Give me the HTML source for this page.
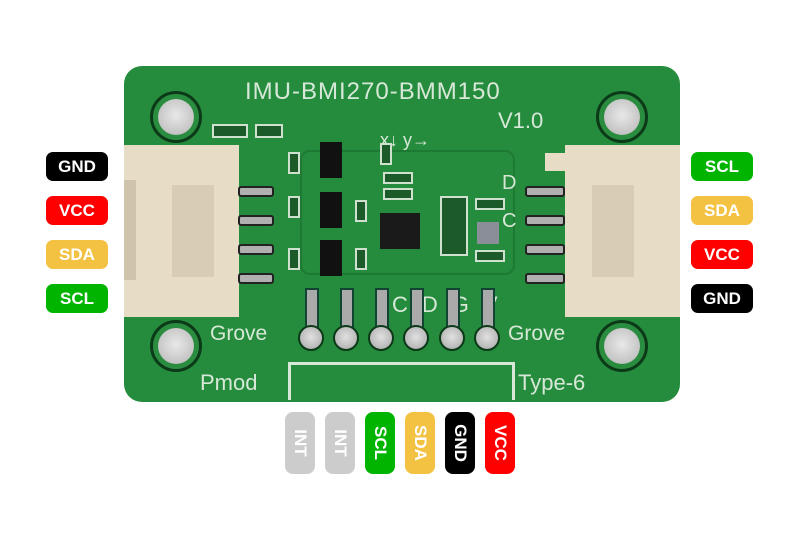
<!DOCTYPE html>
<html><head><meta charset="utf-8"><style>
*{margin:0;padding:0;box-sizing:border-box}
body{width:800px;height:539px;background:#fff;position:relative;overflow:hidden;font-family:"Liberation Sans",sans-serif}
.a{position:absolute}
.lab{position:absolute;width:62px;height:29px;border-radius:7px;color:#fff;font-weight:bold;font-size:17px;text-align:center;line-height:29px}
.vl{position:absolute;top:412px;width:30px;height:62px;border-radius:8px;color:#fff;font-weight:bold;font-size:17px}
.vl span{position:absolute;left:50%;top:50%;transform:translate(-50%,-50%) rotate(90deg);white-space:nowrap}
.hole{position:absolute;width:52px;height:52px;border-radius:50%;background:#2a8c3e;border:3px solid #0c3a18}
.hole:after{content:"";position:absolute;left:5px;top:5px;width:36px;height:36px;border-radius:50%;background:radial-gradient(circle at 50% 45%,#e8e8e8,#c4c4c4 70%,#9a9a9a);}
.ph{position:absolute;width:26px;height:26px;border-radius:50%;background:radial-gradient(circle at 50% 45%,#e0e0e0,#bbb 65%,#888);border:2px solid #0c3a18}
.silk{position:absolute;color:#d8e8d8;font-size:20px}
.pin{position:absolute;height:11px;background:#b0b0b0;border-radius:3px;border:2px solid #222}
.chip{position:absolute;background:#111}
.smd{position:absolute;border:2px solid #cfe0cf;background:#1d5a2a}
.pad{position:absolute;top:288px;width:14px;height:44px;background:#aaa;border:2px solid #143}
</style></head><body>
<div class="a" style="left:124px;top:66px;width:556px;height:336px;background:#248c3c;border-radius:18px"></div>
<div class="a" style="left:300px;top:150px;width:215px;height:125px;border:2px solid #1e7a33;border-radius:10px"></div>
<div class="silk" style="left:245px;top:78px;font-size:24px;letter-spacing:1px">IMU-BMI270-BMM150</div>
<div class="silk" style="left:498px;top:108px;font-size:22px">V1.0</div>
<div class="silk" style="left:380px;top:130px;font-size:18px">x↓ y→</div>
<div class="silk" style="left:502px;top:172px;font-size:20px">D</div>
<div class="silk" style="left:502px;top:210px;font-size:20px">C</div>
<div class="silk" style="left:210px;top:322px;font-size:21px">Grove</div>
<div class="silk" style="left:508px;top:322px;font-size:21px">Grove</div>
<div class="silk" style="left:200px;top:370px;font-size:22px">Pmod</div>
<div class="silk" style="left:518px;top:370px;font-size:22px">Type-6</div>
<div class="silk" style="left:392px;top:292px;font-size:22px;letter-spacing:14px">CDGV</div>
<div class="a" style="left:288px;top:362px;width:227px;height:38px;border:3px solid #d8e8d8;border-bottom:none"></div>
<div class="hole" style="left:150px;top:91px"></div>
<div class="hole" style="left:596px;top:91px"></div>
<div class="hole" style="left:150px;top:320px"></div>
<div class="hole" style="left:596px;top:320px"></div>
<div class="a" style="left:124px;top:145px;width:115px;height:172px;background:#e7dcc6"></div>
<div class="a" style="left:172px;top:185px;width:42px;height:92px;background:#d8ccb4"></div>
<div class="a" style="left:124px;top:180px;width:12px;height:100px;background:#cfc3ac"></div>
<div class="pin" style="left:238px;top:186px;width:36px"></div>
<div class="pin" style="left:238px;top:215px;width:36px"></div>
<div class="pin" style="left:238px;top:244px;width:36px"></div>
<div class="pin" style="left:238px;top:273px;width:36px"></div>
<div class="a" style="left:565px;top:145px;width:115px;height:172px;background:#e7dcc6"></div>
<div class="a" style="left:592px;top:185px;width:42px;height:92px;background:#d8ccb4"></div>
<div class="a" style="left:545px;top:153px;width:20px;height:18px;background:#e7dcc6"></div>
<div class="pin" style="left:525px;top:186px;width:40px"></div>
<div class="pin" style="left:525px;top:215px;width:40px"></div>
<div class="pin" style="left:525px;top:244px;width:40px"></div>
<div class="pin" style="left:525px;top:273px;width:40px"></div>
<div class="chip" style="left:320px;top:142px;width:22px;height:36px"></div>
<div class="chip" style="left:320px;top:192px;width:22px;height:36px"></div>
<div class="chip" style="left:320px;top:240px;width:22px;height:36px"></div>
<div class="chip" style="left:380px;top:213px;width:40px;height:36px;background:#1a1a1a"></div>
<div class="a" style="left:477px;top:222px;width:22px;height:22px;background:#8a8e98"></div>
<div class="smd" style="left:212px;top:124px;width:36px;height:14px"></div>
<div class="smd" style="left:255px;top:124px;width:28px;height:14px"></div>
<div class="smd" style="left:288px;top:152px;width:12px;height:22px"></div>
<div class="smd" style="left:288px;top:196px;width:12px;height:22px"></div>
<div class="smd" style="left:288px;top:248px;width:12px;height:22px"></div>
<div class="smd" style="left:355px;top:200px;width:12px;height:22px"></div>
<div class="smd" style="left:355px;top:248px;width:12px;height:22px"></div>
<div class="smd" style="left:380px;top:143px;width:12px;height:22px"></div>
<div class="smd" style="left:383px;top:172px;width:30px;height:12px"></div>
<div class="smd" style="left:383px;top:188px;width:30px;height:12px"></div>
<div class="smd" style="left:440px;top:196px;width:28px;height:60px"></div>
<div class="smd" style="left:475px;top:198px;width:30px;height:12px"></div>
<div class="smd" style="left:475px;top:250px;width:30px;height:12px"></div>
<div class="pad" style="left:305px"></div>
<div class="pad" style="left:340px"></div>
<div class="pad" style="left:375px"></div>
<div class="pad" style="left:410px"></div>
<div class="pad" style="left:446px"></div>
<div class="pad" style="left:481px"></div>
<div class="ph" style="left:298px;top:325px"></div>
<div class="ph" style="left:333px;top:325px"></div>
<div class="ph" style="left:368px;top:325px"></div>
<div class="ph" style="left:403px;top:325px"></div>
<div class="ph" style="left:439px;top:325px"></div>
<div class="ph" style="left:474px;top:325px"></div>
<div class="lab" style="left:46px;top:152px;background:#000">GND</div>
<div class="lab" style="left:46px;top:196px;background:#f00">VCC</div>
<div class="lab" style="left:46px;top:240px;background:#f4c242">SDA</div>
<div class="lab" style="left:46px;top:284px;background:#00b400">SCL</div>
<div class="lab" style="left:691px;top:152px;background:#00b400">SCL</div>
<div class="lab" style="left:691px;top:196px;background:#f4c242">SDA</div>
<div class="lab" style="left:691px;top:240px;background:#f00">VCC</div>
<div class="lab" style="left:691px;top:284px;background:#000">GND</div>
<div class="vl" style="left:285px;background:#ccc"><span>INT</span></div>
<div class="vl" style="left:325px;background:#ccc"><span>INT</span></div>
<div class="vl" style="left:365px;background:#00b400"><span>SCL</span></div>
<div class="vl" style="left:405px;background:#f4c242"><span>SDA</span></div>
<div class="vl" style="left:445px;background:#000"><span>GND</span></div>
<div class="vl" style="left:485px;background:#f00"><span>VCC</span></div>
</body></html>
